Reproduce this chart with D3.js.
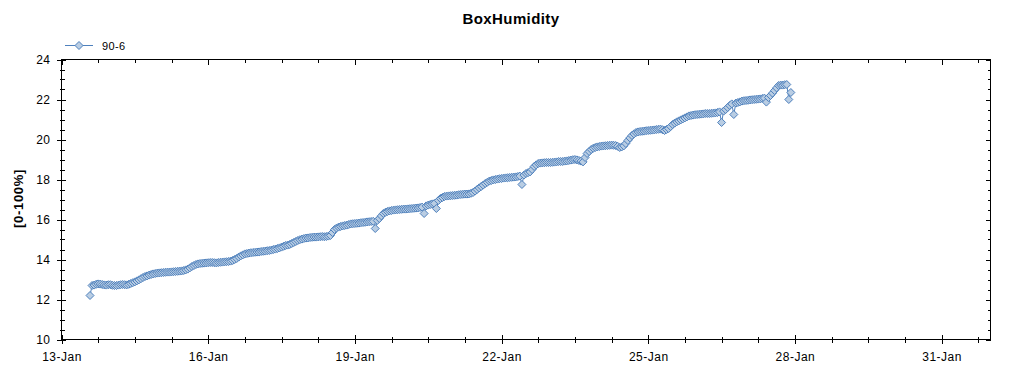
<!DOCTYPE html>
<html>
<head>
<meta charset="utf-8">
<script src="https://cdn.jsdelivr.net/npm/d3@7"></script>
<style>
  html, body { margin: 0; padding: 0; background: #fff; }
  svg { display: block; font-family: "Liberation Sans", Arial, sans-serif; }
</style>
</head>
<body>
<svg id="chart" width="1024" height="375"></svg>
<script>
// ---------------- data ----------------
const chartTitle = "BoxHumidity";
const seriesName = "90-6";
const yAxisLabel = "[0-100%]";
const sampleStart = "2014-01-13T14:00:00Z";   // first reading
const sampleHours = 1;                         // reading interval (hours)
const humidity = [
  12.2, 12.7, 12.72, 12.76, 12.78, 12.77, 12.75, 12.73, 12.72, 12.74,
  12.74, 12.71, 12.7, 12.7, 12.72, 12.74, 12.75, 12.74, 12.73, 12.76,
  12.8, 12.84, 12.88, 12.93, 12.98, 13.04, 13.1, 13.15, 13.18, 13.22,
  13.25, 13.28, 13.3, 13.32, 13.33, 13.34, 13.35, 13.36, 13.37, 13.37,
  13.38, 13.39, 13.4, 13.41, 13.42, 13.43, 13.45, 13.48, 13.52, 13.58,
  13.65, 13.7, 13.75, 13.78, 13.8, 13.81, 13.82, 13.83, 13.84, 13.85,
  13.85, 13.84, 13.83, 13.85, 13.86, 13.87, 13.88, 13.89, 13.9, 13.92,
  13.95, 14.0, 14.05, 14.12, 14.18, 14.23, 14.28, 14.3, 14.32, 14.34,
  14.35, 14.36, 14.37, 14.38, 14.4, 14.41, 14.42, 14.44, 14.45, 14.47,
  14.5, 14.52, 14.55, 14.58, 14.62, 14.66, 14.7, 14.72, 14.75, 14.8,
  14.85, 14.9, 14.95, 14.99, 15.02, 15.05, 15.07, 15.08, 15.1, 15.11,
  15.12, 15.12, 15.13, 15.14, 15.15, 15.14, 15.15, 15.17, 15.2, 15.35,
  15.5, 15.57, 15.62, 15.65, 15.68, 15.7, 15.72, 15.75, 15.78, 15.79,
  15.8, 15.81, 15.82, 15.84, 15.85, 15.86, 15.88, 15.89, 15.9, 15.91,
  15.55, 15.95, 16.05, 16.18, 16.3, 16.36, 16.4, 16.43, 16.45, 16.47,
  16.48, 16.49, 16.5, 16.51, 16.52, 16.52, 16.53, 16.54, 16.55, 16.56,
  16.57, 16.58, 16.6, 16.62, 16.3, 16.68, 16.72, 16.75, 16.78, 16.8,
  16.55, 16.95, 17.05, 17.1, 17.15, 17.17, 17.18, 17.19, 17.2, 17.21,
  17.22, 17.24, 17.25, 17.26, 17.27, 17.27, 17.28, 17.31, 17.35, 17.42,
  17.5, 17.58, 17.65, 17.72, 17.8, 17.86, 17.92, 17.95, 17.98, 18.0,
  18.02, 18.04, 18.05, 18.07, 18.08, 18.09, 18.1, 18.11, 18.12, 18.13,
  18.15, 18.17, 17.75, 18.22, 18.3, 18.34, 18.38, 18.5, 18.65, 18.73,
  18.8, 18.82, 18.83, 18.84, 18.85, 18.85, 18.85, 18.86, 18.87, 18.88,
  18.9, 18.9, 18.9, 18.92, 18.93, 18.95, 18.97, 18.99, 19.0, 18.98,
  18.95, 18.92, 18.88, 19.1, 19.3, 19.4, 19.5, 19.56, 19.6, 19.63,
  19.65, 19.67, 19.68, 19.69, 19.7, 19.71, 19.72, 19.71, 19.7, 19.66,
  19.6, 19.63, 19.68, 19.8, 19.95, 20.08, 20.2, 20.28, 20.35, 20.38,
  20.4, 20.41, 20.42, 20.44, 20.45, 20.46, 20.47, 20.48, 20.5, 20.51,
  20.52, 20.49, 20.45, 20.5, 20.55, 20.65, 20.75, 20.82, 20.88, 20.93,
  20.98, 21.03, 21.08, 21.13, 21.18, 21.2, 21.22, 21.24, 21.25, 21.26,
  21.27, 21.28, 21.3, 21.3, 21.3, 21.31, 21.32, 21.33, 21.35, 21.38,
  20.85, 21.42, 21.5, 21.6, 21.7, 21.78, 21.25, 21.82, 21.85, 21.88,
  21.92, 21.94, 21.95, 21.96, 21.98, 21.99, 22.0, 22.01, 22.02, 22.03,
  22.05, 22.07, 21.87, 22.1, 22.2, 22.32, 22.45, 22.58, 22.7, 22.72,
  22.72, 22.74, 22.75, 22.0, 22.35
];
const xDomain = ["2014-01-13T00:00:00Z", "2014-02-01T00:00:00Z"];
const xMajorDays = ["2014-01-13", "2014-01-16", "2014-01-19", "2014-01-22", "2014-01-25", "2014-01-28", "2014-01-31"];
const xMajorLabels = ["13-Jan", "16-Jan", "19-Jan", "22-Jan", "25-Jan", "28-Jan", "31-Jan"];
const xMinorHours = 18;
const yDomain = [10, 24];
const yMajorTicks = [10, 12, 14, 16, 18, 20, 22, 24];
const yMinorStep = 0.5;

// ---------------- layout ----------------
const plot = { left: 61.5, right: 990.5, top: 59.5, bottom: 339.5 };
const lineColor = "#4f81bd";
const markerFill = "#b9cde3";
const diamond = "M0,-4L4,0L0,4L-4,0Z";

const svg = d3.select("#chart");
const x = d3.scaleUtc().domain(xDomain.map(d => new Date(d))).range([plot.left, plot.right]);
const y = d3.scaleLinear().domain(yDomain).range([plot.bottom, plot.top]);

const t0 = new Date(sampleStart).getTime();
const points = humidity.map((v, i) => ({ t: new Date(t0 + i * sampleHours * 3600e3), v }));

// title
svg.append("text").attr("x", 511).attr("y", 24).attr("text-anchor", "middle")
  .attr("font-size", 15).attr("letter-spacing", 0.4).attr("font-weight", "bold").attr("fill", "#000").text(chartTitle);

// y label
svg.append("text").attr("transform", `translate(23,${(plot.top + plot.bottom) / 2 - 1}) rotate(-90)`)
  .attr("text-anchor", "middle").attr("font-size", 13).attr("letter-spacing", 0.7)
  .attr("font-weight", "bold").text(yAxisLabel);

// legend
const lg = svg.append("g");
lg.append("line").attr("x1", 65).attr("x2", 93).attr("y1", 45.5).attr("y2", 45.5)
  .attr("stroke", lineColor).attr("stroke-width", 1);
lg.append("path").attr("d", diamond).attr("transform", "translate(79,45.5)")
  .attr("fill", markerFill).attr("stroke", lineColor).attr("stroke-width", 1);
lg.append("text").attr("x", 102).attr("y", 49.5).attr("font-size", 11).attr("letter-spacing", 0.4).text(seriesName);

// clip
svg.append("clipPath").attr("id", "clip").append("rect")
  .attr("x", plot.left).attr("y", plot.top).attr("width", plot.right - plot.left).attr("height", plot.bottom - plot.top);

// data
const g = svg.append("g").attr("clip-path", "url(#clip)");
g.append("path").datum(points)
  .attr("d", d3.line().x(d => x(d.t)).y(d => y(d.v)))
  .attr("fill", "none").attr("stroke", lineColor).attr("stroke-width", 1);
g.selectAll("path.m").data(points).join("path").attr("class", "m")
  .attr("d", diamond)
  .attr("transform", d => `translate(${x(d.t)},${y(d.v)})`)
  .attr("fill", markerFill).attr("stroke", lineColor).attr("stroke-width", 1);

// axes frame
const ax = svg.append("g").attr("stroke", "#000").attr("stroke-width", 1).attr("shape-rendering", "crispEdges");
ax.append("rect").attr("x", plot.left).attr("y", plot.top)
  .attr("width", plot.right - plot.left).attr("height", plot.bottom - plot.top).attr("fill", "none");

// x ticks
const majorDates = xMajorDays.map(d => new Date(d + "T00:00:00Z"));
const d0 = x.domain()[0].getTime(), d1 = x.domain()[1].getTime();
const minorDates = d3.range(d0, d1 + 1, xMinorHours * 3600e3).map(t => new Date(t))
  .filter(d => !majorDates.some(m => m.getTime() === d.getTime()));
const xBottom = d3.axisBottom(x).tickValues(majorDates).tickSize(0).tickFormat((d, i) => xMajorLabels[i]);
majorDates.forEach(d => {
  const px = Math.round(x(d)) + 0.5;
  ax.append("line").attr("x1", px).attr("x2", px).attr("y1", plot.bottom - 5).attr("y2", plot.bottom + 4);
  ax.append("line").attr("x1", px).attr("x2", px).attr("y1", plot.top).attr("y2", plot.top + 5);
});
minorDates.forEach(d => {
  const px = Math.round(x(d)) + 0.5;
  ax.append("line").attr("x1", px).attr("x2", px).attr("y1", plot.bottom - 3).attr("y2", plot.bottom + 3);
  ax.append("line").attr("x1", px).attr("x2", px).attr("y1", plot.top).attr("y2", plot.top + 3);
});
const xg = svg.append("g").attr("transform", `translate(0,${plot.bottom})`).call(xBottom);
xg.select(".domain").remove();
xg.selectAll("text").attr("font-size", 12).attr("letter-spacing", 0.5).attr("fill", "#000")
  .attr("font-family", "Liberation Sans, Arial, sans-serif").attr("dy", "0").attr("y", 21);

// y ticks
const yMinor = d3.range(yDomain[0], yDomain[1] + 0.001, yMinorStep).filter(v => !yMajorTicks.includes(v));
yMajorTicks.forEach(v => {
  const py = Math.round(y(v)) + 0.5;
  ax.append("line").attr("x1", plot.left - 5).attr("x2", plot.left + 4).attr("y1", py).attr("y2", py);
  ax.append("line").attr("x1", plot.right - 5).attr("x2", plot.right).attr("y1", py).attr("y2", py);
});
yMinor.forEach(v => {
  const py = Math.round(y(v)) + 0.5;
  ax.append("line").attr("x1", plot.left - 2).attr("x2", plot.left + 3).attr("y1", py).attr("y2", py);
  ax.append("line").attr("x1", plot.right - 3).attr("x2", plot.right).attr("y1", py).attr("y2", py);
});
const yLeft = d3.axisLeft(y).tickValues(yMajorTicks).tickSize(0).tickFormat(d3.format("d"));
const yg = svg.append("g").attr("transform", `translate(${plot.left},0)`).call(yLeft);
yg.select(".domain").remove();
yg.selectAll("text").attr("font-size", 12).attr("letter-spacing", 0.5).attr("fill", "#000")
  .attr("font-family", "Liberation Sans, Arial, sans-serif").attr("x", -11);
</script>
</body>
</html>
